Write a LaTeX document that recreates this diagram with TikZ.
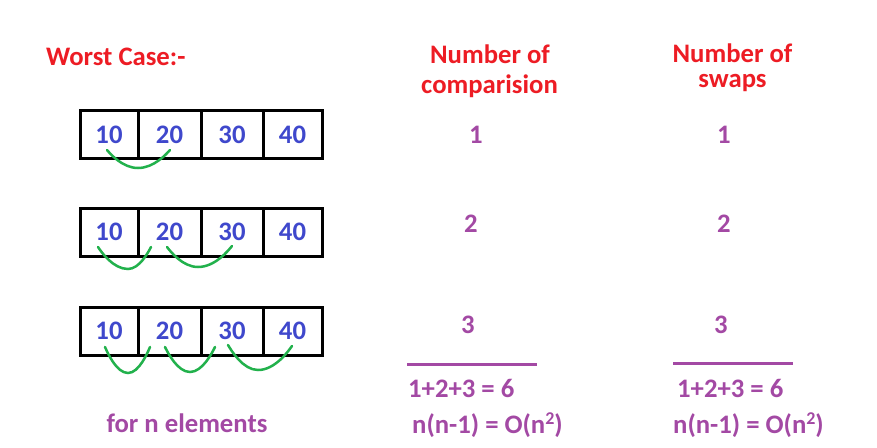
\documentclass[tikz,border=0pt]{standalone}
\usepackage{fontspec}
\setmainfont{Carlito}
\definecolor{pred}{RGB}{237,28,36}
\definecolor{pgreen}{RGB}{34,177,76}
\definecolor{ppurple}{RGB}{163,73,164}
\definecolor{pblue}{RGB}{63,72,204}
\tikzset{
  txt/.style={inner sep=0pt, font=\fontsize{26.7}{32}\selectfont\bfseries},
  head/.style={txt, text=pred},
  val/.style={txt, text=ppurple},
  cell/.style={draw=black, line width=3pt, inner sep=0pt, minimum height=48pt,
     text=pblue, font=\fontsize{26.7}{32}\selectfont\bfseries, text height=17pt, text depth=0pt},
  swing/.style={draw=pgreen, line width=2.5pt, line cap=round},
  total/.style={draw=ppurple, line width=3pt}
}
\begin{document}
\begin{tikzpicture}[x=1pt,y=-1pt]
\useasboundingbox[fill=white] (0,0) rectangle (877,447);
% title
\node[head, anchor=base west] (worst) at (46,65) {Worst Case:-};
\node[head, anchor=base] (h1a) at (490,63) {Number of};
\node[head, anchor=base] (h1b) at (489.5,93) {comparision};
\node[head, anchor=base] (h2a) at (732.5,62) {Number of};
\node[head, anchor=base] (h2b) at (732.5,87) {swaps};
% row 1
\node[cell, minimum width=58pt] (r1a) at (109,134.5) {10};
\node[cell, minimum width=63pt] (r1b) at (169.5,134.5) {20};
\node[cell, minimum width=62pt] (r1c) at (232,134.5) {30};
\node[cell, minimum width=59pt] (r1d) at (292.5,134.5) {40};
% row 2
\node[cell, minimum width=58pt] (r2a) at (109,232) {10};
\node[cell, minimum width=63pt] (r2b) at (169.5,232) {20};
\node[cell, minimum width=62pt] (r2c) at (232,232) {30};
\node[cell, minimum width=59pt] (r2d) at (292.5,232) {40};
% row 3
\node[cell, minimum width=58pt] (r3a) at (109,331) {10};
\node[cell, minimum width=63pt] (r3b) at (169.5,331) {20};
\node[cell, minimum width=62pt] (r3c) at (232,331) {30};
\node[cell, minimum width=59pt] (r3d) at (292.5,331) {40};
% swings
\draw[swing] (107,150) parabola bend (138,168) (170,150);
\draw[swing] (98,247) parabola bend (128,269) (151,247);
\draw[swing] (167,247) parabola bend (198,267) (232,246);
\draw[swing] (105,347) parabola bend (128,373) (150,347);
\draw[swing] (165,347) parabola bend (190,372) (215,347);
\draw[swing] (228,345) parabola bend (258,370) (292,346);
% counts
\node[val, anchor=base] (c1) at (476,143) {1};
\node[val, anchor=base] (c2) at (471,232) {2};
\node[val, anchor=base] (c3) at (468,333) {3};
\node[val, anchor=base] (s1) at (724,143) {1};
\node[val, anchor=base] (s2) at (724,232) {2};
\node[val, anchor=base] (s3) at (721,333) {3};
% totals
\coordinate (l1) at (407,364); \coordinate (l2) at (537,364);
\coordinate (m1) at (673,363); \coordinate (m2) at (793,363);
\draw[total] (l1) -- (l2);
\draw[total] (m1) -- (m2);
\node[val, anchor=base west] (sum1) at (408,397) {1+2+3 = 6};
\node[val, anchor=base west] (sum2) at (677,397) {1+2+3 = 6};
\node[val, anchor=base west] (big1) at (412,433) {n(n-1) = O(n\raisebox{9pt}{\fontsize{18}{18}\selectfont 2})};
\node[val, anchor=base west] (big2) at (673,433) {n(n-1) = O(n\raisebox{9pt}{\fontsize{18}{18}\selectfont 2})};
\node[val, anchor=base] (forn) at (187,432) {for n elements};
\end{tikzpicture}
\end{document}
